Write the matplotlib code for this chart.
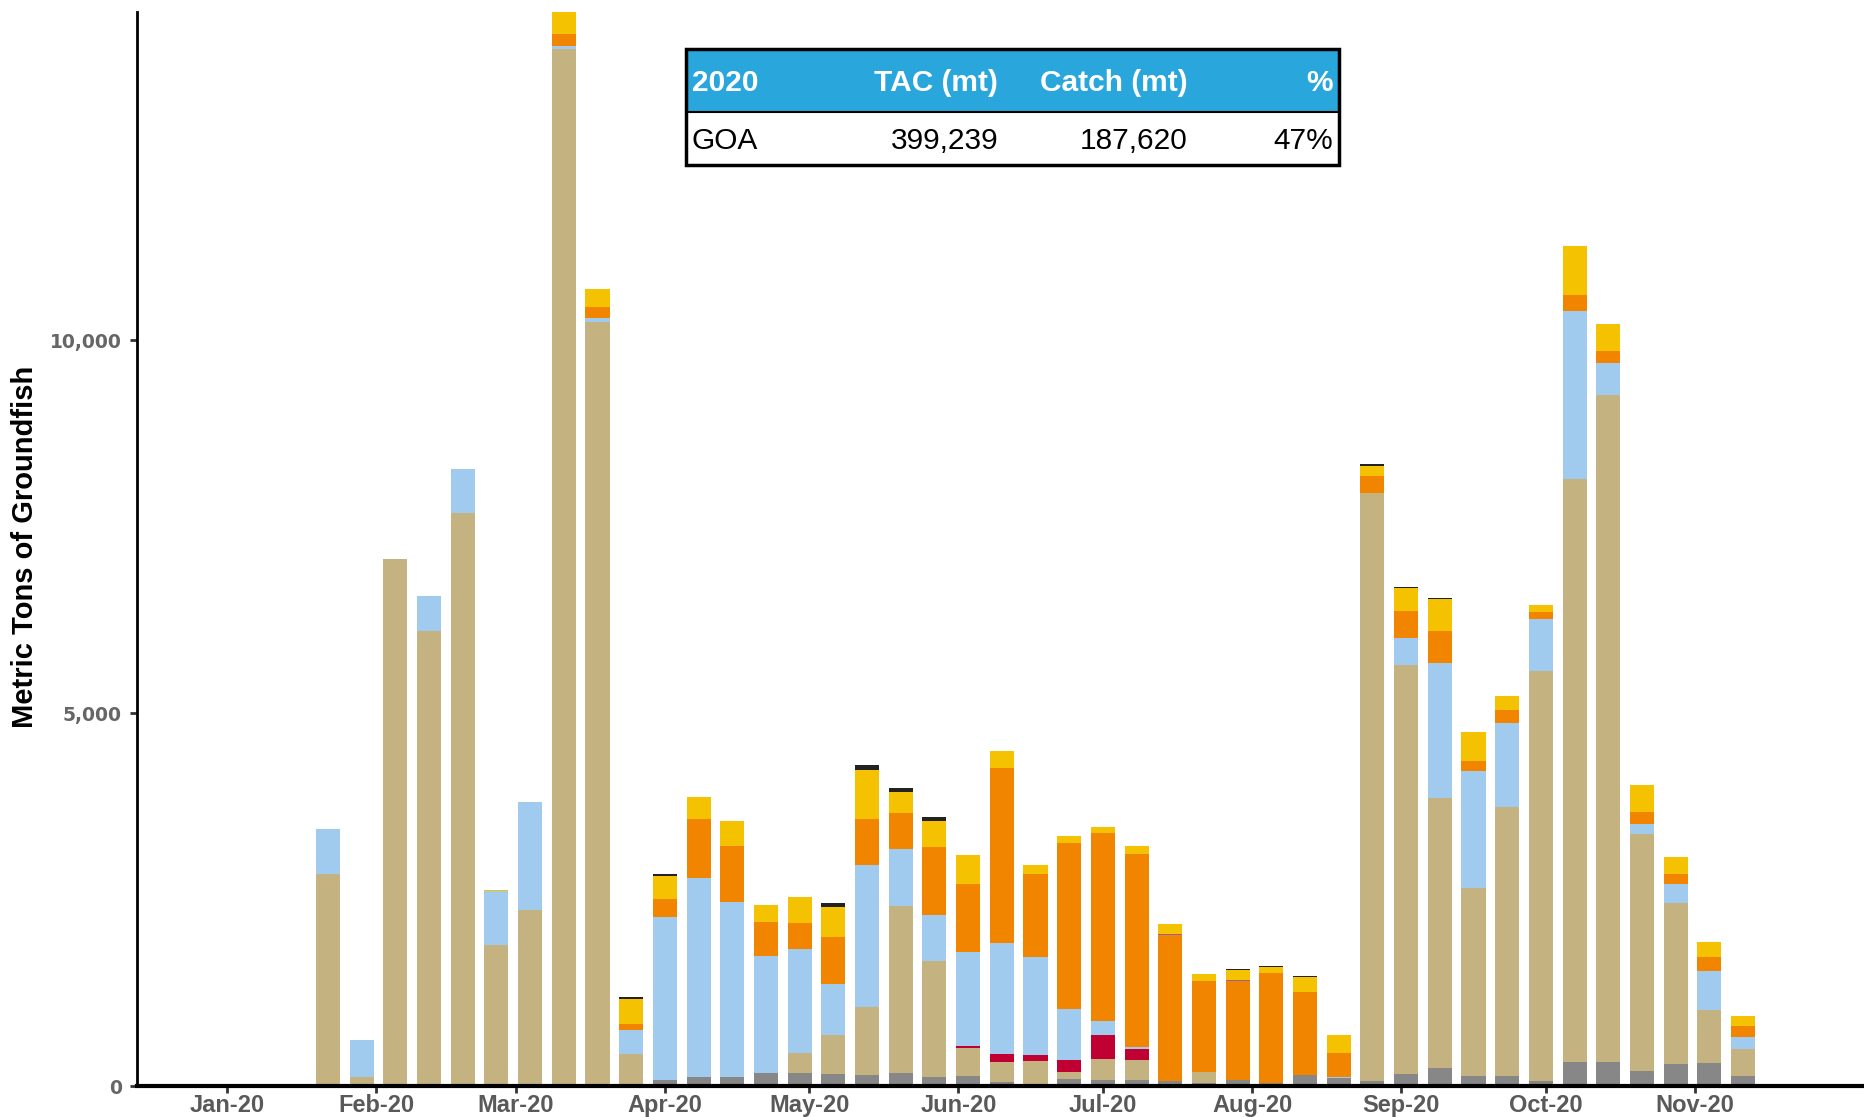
import matplotlib
matplotlib.use("Agg")
import matplotlib.pyplot as plt
import matplotlib.dates as mdates
import matplotlib.patches as patches
import pandas as pd

# week-ending dates of the bars
weeks = pd.date_range("2020-01-22", periods=43, freq="7D")
month_ticks = pd.date_range("2020-01-01", "2020-11-01", freq="MS")

# catch by week (metric tons), one list per stacked series, bottom to top
gray = [0, 0, 0, 0, 0, 0, 0, 30, 15, 15, 76, 116, 116, 170, 170, 156, 143, 170, 116, 130,
        49, 22, 89, 76, 76, 70, 45, 85, 45, 143, 103, 63, 156, 237, 130, 130, 63, 317, 317, 197,
        290, 304, 130]
tan = [2840, 120, 7060, 6100, 7680, 1890, 2360, 13870, 10225, 415, 0, 0, 0, 0, 268, 523, 911, 2238, 1555, 375,
       268, 309, 94, 281, 268, 0, 138, 0, 0, 0, 0, 7886, 5487, 3619, 2519, 3605, 5500, 7820, 8946, 3176,
       2158, 711, 362]
red = [0, 0, 0, 0, 0, 0, 0, 0, 0, 0, 0, 0, 0, 0, 0, 0, 0, 0, 0, 27,
       107, 80, 161, 322, 147, 0, 0, 0, 0, 0, 0, 0, 0, 0, 0, 0, 0, 0, 0, 0,
       0, 0, 0]
blue = [605, 500, 0, 465, 595, 725, 1450, 40, 55, 320, 2190, 2670, 2350, 1570, 1394, 684, 1904, 764, 617, 1260,
        1488, 1314, 684, 188, 27, 0, 0, 0, 0, 0, 13, 0, 362, 1814, 1569, 1126, 697, 2252, 429, 134,
        255, 523, 161]
orange = [0, 0, 0, 0, 0, 0, 0, 160, 145, 80, 240, 790, 750, 455, 348, 630, 616, 483, 911, 911,
          2346, 1112, 2225, 2520, 2587, 1950, 1220, 1318, 1465, 1113, 322, 228, 362, 429, 134, 174, 94, 214, 161, 161,
          134, 187, 147]
purple = [0] * 25 + [13, 0, 13] + [0] * 15
yellow = [0, 0, 0, 0, 0, 15, 0, 310, 245, 335, 310, 295, 335, 230, 349, 402, 657, 281, 349, 389,
          228, 121, 93, 80, 108, 134, 94, 134, 81, 201, 241, 134, 309, 429, 389, 189, 94, 657, 361, 362,
          228, 201, 134]
black = [0, 0, 0, 0, 0, 0, 0, 0, 0, 27, 27, 0, 0, 0, 0, 53, 67, 54, 53, 0,
         0, 0, 0, 0, 0, 0, 0, 18, 17, 17, 0, 27, 13, 14, 0, 0, 0, 0, 0, 0,
         0, 0, 0]

series = [gray, tan, red, blue, orange, purple, yellow, black]
colors = ["#878787", "#C4B381", "#C00032", "#A1CAEF", "#F28500", "#9E5FA0", "#F4C200", "#222222"]

# summary table
table_header = ["2020", "TAC (mt)", "Catch (mt)", "%"]
table_row = ["GOA", "399,239", "187,620", "47%"]

W, H = 1865, 1117
fig = plt.figure(figsize=(W / 100, H / 100), dpi=100)
ax = fig.add_axes([137 / W, 1 - 1086 / H, 1 - 137 / W, (1086 - 12) / H])

bottom = [0.0] * len(weeks)
for vals, col in zip(series, colors):
    ax.bar(weeks, vals, width=5, bottom=bottom, color=col, linewidth=0)
    bottom = [b + v for b, v in zip(bottom, vals)]

ax.set_xlim(pd.Timestamp("2019-12-13 08:00"), pd.Timestamp("2020-12-06 08:00"))
ax.set_ylim(0, 14400)

ax.set_xticks(month_ticks)
ax.xaxis.set_major_formatter(mdates.DateFormatter("%b-%y"))
ax.set_yticks([0, 5000, 10000])
ax.set_yticklabels(["0", "5,000", "10,000"])

for lab in ax.get_xticklabels():
    lab.set_family("Liberation Sans")
    lab.set_fontweight("bold")
    lab.set_fontsize(17)
    lab.set_color("#595959")
for lab in ax.get_yticklabels():
    lab.set_family("DejaVu Sans")
    lab.set_fontweight("bold")
    lab.set_fontsize(13.5)
    lab.set_color("#666666")

ax.tick_params(axis="x", length=5, width=2, color="#333333", pad=1)
ax.tick_params(axis="y", length=5, width=2, color="#333333", pad=6)

ax.spines["top"].set_visible(False)
ax.spines["right"].set_visible(False)
ax.spines["left"].set_linewidth(2)
ax.spines["bottom"].set_linewidth(3)

fig.text(25 / W, 1 - 547 / H, "Metric Tons of Groundfish", rotation=90, ha="center", va="center",
         fontsize=21, fontweight="bold", family="Liberation Sans", color="black")

# table drawn as its own axes
tx0, tx1, ty0, ty1 = 686, 1339, 49, 165
tab = fig.add_axes([tx0 / W, 1 - ty1 / H, (tx1 - tx0) / W, (ty1 - ty0) / H])
tab.set_xlim(tx0, tx1)
tab.set_ylim(ty1, ty0)
tab.axis("off")
tab.add_patch(patches.Rectangle((tx0, ty0), tx1 - tx0, 63, facecolor="#29A6DC", edgecolor="none"))
tab.add_patch(patches.Rectangle((tx0, ty0), tx1 - tx0, ty1 - ty0, facecolor="none",
                                edgecolor="black", linewidth=2.5, clip_on=False))
tab.plot([tx0, tx1], [112, 112], color="black", linewidth=1.5)

col_x = [692, 998, 1188, 1333]
col_ha = ["left", "right", "right", "right"]
for txt, x, ha in zip(table_header, col_x, col_ha):
    tab.text(x, 83, txt, ha=ha, va="center", fontsize=21.5, fontweight="bold",
             family="Liberation Sans", color="white")
for txt, x, ha in zip(table_row, col_x, col_ha):
    tab.text(x, 141, txt, ha=ha, va="center", fontsize=21.5, family="Liberation Sans", color="black")

fig.savefig("out.png", dpi=100)
